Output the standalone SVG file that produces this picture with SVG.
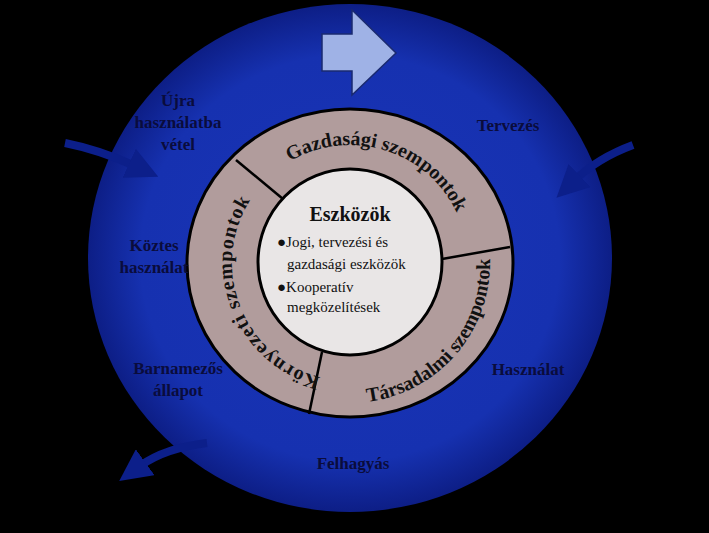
<svg xmlns="http://www.w3.org/2000/svg" width="709" height="533" viewBox="0 0 709 533">
<defs>
<radialGradient id="bg" cx="50%" cy="50%" r="50%">
<stop offset="0" stop-color="#1a34b8"/><stop offset="0.8" stop-color="#1631b0"/><stop offset="1" stop-color="#0d1e86"/>
</radialGradient>
<path id="pG" d="M 350 381 A 118 118 0 1 1 350 145 A 118 118 0 1 1 350 381"/>
<path id="pK" d="M 350 381 A 118 118 0 1 1 350 145 A 118 118 0 1 1 350 381"/>
<path id="pT" d="M 350 403 A 140 140 0 0 0 350 123 A 140 140 0 0 0 350 403"/>
<marker id="ah" viewBox="0 0 10 10" refX="2" refY="5" markerWidth="4" markerHeight="4" orient="auto"><path d="M0,0 L10,5 L0,10 z" fill="#0c1f8a"/></marker>
</defs>
<style>
.lb{font-family:"Liberation Serif",serif;font-weight:bold;font-size:17px;fill:#0a0c3c;text-anchor:middle}
.rg{font-family:"Liberation Serif",serif;font-weight:bold;font-size:20px;fill:#111}
.ct{font-family:"Liberation Serif",serif;font-size:15px;fill:#111}
.cv{fill:none;stroke:#0c1f8a;stroke-width:8;marker-end:url(#ah)}
</style>
<rect width="709" height="533" fill="#000"/>
<ellipse cx="350" cy="258" rx="262" ry="254" fill="url(#bg)"/>
<g id="arrow-top"><path d="M322,34 L352,34 L352,10 L396,53 L352,95 L352,71 L322,71 z" fill="#9fb2e6" stroke="#1a2a70" stroke-width="1.5"/></g>
<g id="connectors">
<path class="cv" d="M65,143 Q100,150 135,166"/>
<path class="cv" d="M633,145 Q598,158 575,180"/>
<path class="cv" d="M207,443 Q165,448 140,466"/>
</g>
<g id="ring">
<ellipse cx="350" cy="263" rx="163" ry="154" fill="#b19c9c" stroke="#000" stroke-width="3"/>
<ellipse cx="350" cy="262" rx="92" ry="93" fill="#e9e6e6" stroke="#000" stroke-width="3"/>
<line x1="236" y1="160" x2="283" y2="199" stroke="#000" stroke-width="2.5"/>
<line x1="442" y1="259" x2="510" y2="247" stroke="#000" stroke-width="2.5"/>
<line x1="322" y1="352" x2="309" y2="414" stroke="#000" stroke-width="2.5"/>
</g>
<g id="gazdasagi"><text class="rg"><textPath href="#pG" startOffset="41.5%">Gazdasági szempontok</textPath></text></g>
<g id="kornyezeti"><text class="rg" letter-spacing="1"><textPath href="#pK" startOffset="4%">Környezeti szempontok</textPath></text></g>
<g id="tarsadalmi"><text class="rg"><textPath href="#pT" startOffset="2%">Társadalmi szempontok</textPath></text></g>
<g id="eszkozok">
<text x="350" y="221" class="rg" text-anchor="middle">Eszközök</text>
<text x="277" y="247" class="ct">●Jogi, tervezési és</text>
<text x="287" y="269" class="ct">gazdasági eszközök</text>
<text x="277" y="292" class="ct">●Kooperatív</text>
<text x="287" y="312" class="ct">megközelítések</text>
</g>
<g id="labels">
<text class="lb" x="178" y="106">Újra</text>
<text class="lb" x="178" y="128">használatba</text>
<text class="lb" x="178" y="150">vétel</text>
<text class="lb" x="508" y="131">Tervezés</text>
<text class="lb" x="154" y="251">Köztes</text>
<text class="lb" x="154" y="273">használat</text>
<text class="lb" x="178" y="374">Barnamezős</text>
<text class="lb" x="178" y="396">állapot</text>
<text class="lb" x="528" y="375">Használat</text>
<text class="lb" x="353" y="469">Felhagyás</text>
</g>
</svg>
